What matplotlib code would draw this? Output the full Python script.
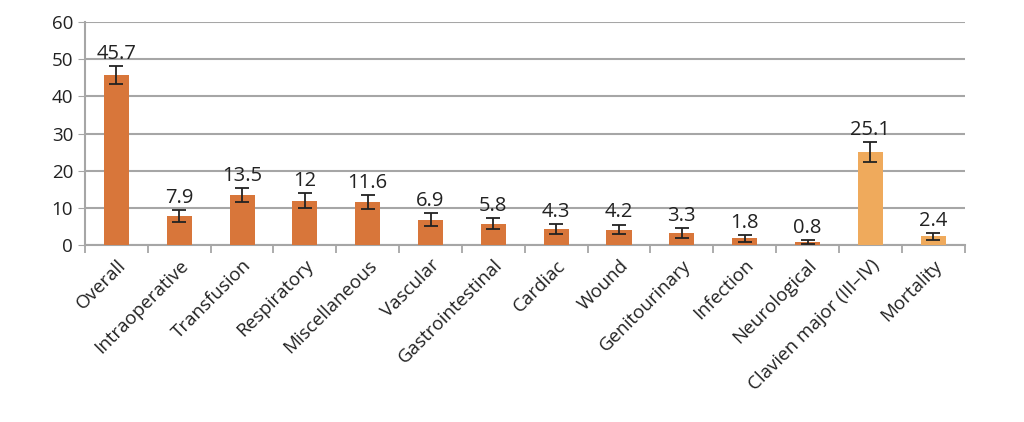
import matplotlib
matplotlib.use('Agg')
import matplotlib.pyplot as plt
import numpy as np

plt.rcParams['font.family'] = ['Open Sans', 'DejaVu Sans']

categories = ['Overall', 'Intraoperative', 'Transfusion', 'Respiratory',
              'Miscellaneous', 'Vascular', 'Gastrointestinal', 'Cardiac',
              'Wound', 'Genitourinary', 'Infection', 'Neurological',
              'Clavien major (III\u2013IV)', 'Mortality']
values = [45.7, 7.9, 13.5, 12, 11.6, 6.9, 5.8, 4.3, 4.2, 3.3, 1.8, 0.8, 25.1, 2.4]
errors = [2.4, 1.6, 1.9, 1.9, 1.8, 1.7, 1.5, 1.4, 1.3, 1.3, 0.9, 0.6, 2.7, 0.9]
labels = ['45.7', '7.9', '13.5', '12', '11.6', '6.9', '5.8', '4.3', '4.2',
          '3.3', '1.8', '0.8', '25.1', '2.4']

dark = '#D8763A'
light = '#EFAA5C'
colors = [dark] * 12 + [light] * 2

fig = plt.figure(figsize=(10.24, 4.22), dpi=100)
ax = fig.add_axes([0.083, 0.419, 0.859, 0.529])

x = np.arange(len(categories))
ax.bar(x, values, width=0.4, color=colors, zorder=3)
ax.errorbar(x, values, yerr=errors, fmt='none', ecolor='#222222',
            elinewidth=1.3, capsize=5, capthick=1.3, zorder=4)

for xi, v, e, lab in zip(x, values, errors, labels):
    ax.text(xi, v + e + 0.6, lab, ha='center', va='bottom', fontsize=14.5,
            color='#222222')

ax.set_xlim(-0.5, len(categories) - 0.5)
ax.set_ylim(0, 60)
ax.set_yticks(range(0, 61, 10))
ax.yaxis.grid(True, color='#A6A6A6', linewidth=1.5, zorder=0)
ax.tick_params(axis='y', labelsize=13.5, length=5, color='#A6A6A6',
               labelcolor='#222222')

ax.set_xticks(x)
ax.set_xticklabels(categories, rotation=45, ha='right',
                   rotation_mode='anchor', fontsize=13.5, color='#222222')
ax.tick_params(axis='x', length=0, pad=8)
ax.set_xticks(np.arange(-0.5, len(categories)), minor=True)
ax.tick_params(axis='x', which='minor', length=6, color='#A6A6A6', width=1.3)

for s in ['top', 'right']:
    ax.spines[s].set_visible(False)
for s in ['left', 'bottom']:
    ax.spines[s].set_color('#A6A6A6')
    ax.spines[s].set_linewidth(1.5)

fig.savefig('out.png', dpi=100)
